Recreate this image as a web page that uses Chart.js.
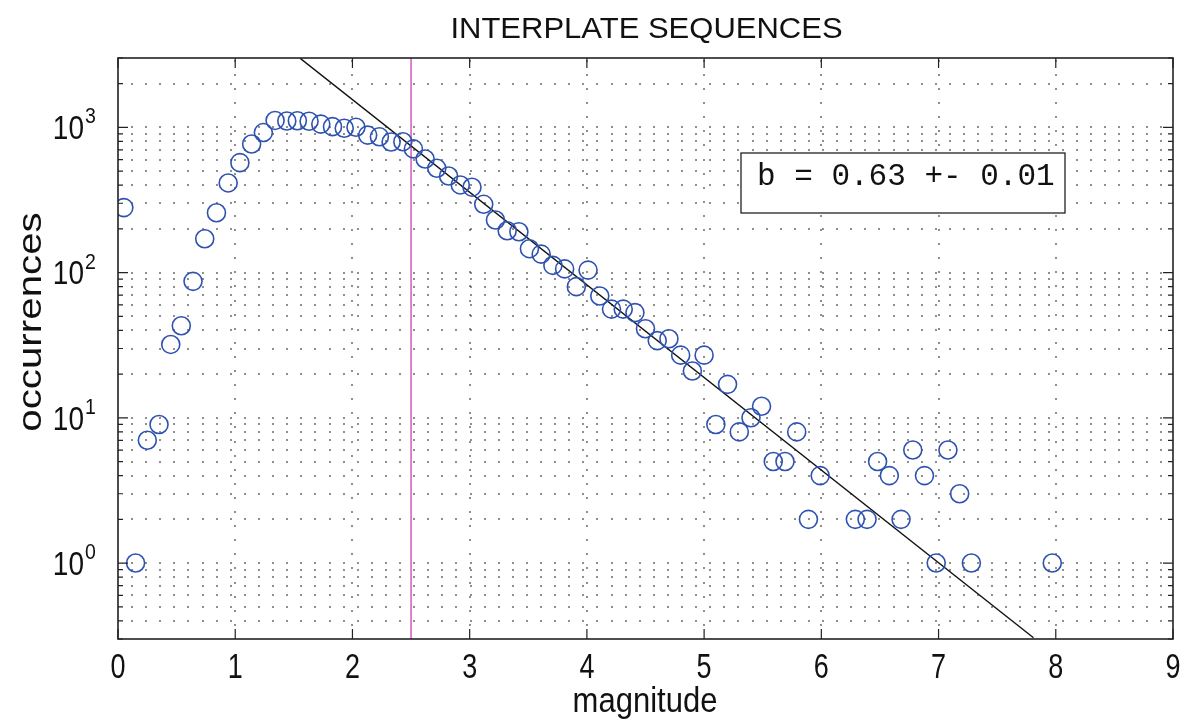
<!DOCTYPE html>
<html>
<head>
<meta charset="utf-8">
<title>Interplate sequences</title>
<script src="https://cdn.jsdelivr.net/npm/chart.js@4.4.0/dist/chart.umd.min.js"></script>
<style>
html, body { margin: 0; padding: 0; background: #fff; }
</style>
</head>
<body>
<canvas id="myChart" width="1190" height="723"></canvas>
<script>
// bin centres (magnitude) and counts, empty bins left out
var magnitudes = [0.05, 0.15, 0.25, 0.35, 0.45, 0.54, 0.64, 0.74, 0.84, 0.94,
    1.04, 1.14, 1.24, 1.34, 1.44, 1.53, 1.63, 1.73, 1.83, 1.93,
    2.03, 2.13, 2.23, 2.33, 2.43, 2.52, 2.62, 2.72, 2.82, 2.92,
    3.02, 3.12, 3.22, 3.32, 3.42, 3.51, 3.61, 3.71, 3.81, 3.91,
    4.01, 4.11, 4.21, 4.31, 4.41, 4.50, 4.60, 4.70, 4.80, 4.90,
    5.00, 5.10, 5.20, 5.30, 5.40, 5.49, 5.59, 5.69, 5.79, 5.89,
    5.99, 6.29, 6.39, 6.48, 6.58, 6.68, 6.78, 6.88, 6.98, 7.08,
    7.18, 7.28, 7.97];
var counts = [280, 1, 7, 9, 32, 43, 87, 171, 258, 414,
    571, 768, 920, 1115, 1105, 1110, 1100, 1052, 1010, 985,
    1000, 884, 860, 792, 796, 710, 605, 522, 462, 401,
    387, 295, 230, 194, 191, 146, 134, 112, 106, 80,
    104, 69, 56, 56, 53, 41, 34, 35, 27, 21,
    27, 9, 17, 8, 10, 12, 5, 5, 8, 2,
    4, 2, 2, 5, 4, 2, 6, 4, 1, 6,
    3, 1, 1];

// fitted Gutenberg-Richter line, ends where it leaves the axes
var fitMag = [1.555, 7.81];
var fitCount = [2983, 0.306];
var cutoffMag = 2.5;
var bText = 'b = 0.63 +- 0.01';

var xTicks = [0, 1, 2, 3, 4, 5, 6, 7, 8, 9];
var yExponents = [0, 1, 2, 3];
var yMin = 0.3, yMax = 3000;

var sans = '"Liberation Sans", Arial, Helvetica, sans-serif';

function drawText(ctx, txt, x, y, size, sy, align, family, sx) {
    ctx.save();
    ctx.translate(x, y);
    ctx.scale(sx || 1, sy);
    ctx.font = size + 'px ' + (family || sans);
    ctx.textAlign = align;
    ctx.textBaseline = 'alphabetic';
    ctx.fillStyle = '#111';
    ctx.fillText(txt, 0, 0);
    ctx.restore();
}

function isDecade(v) {
    var l = Math.log10(v);
    return Math.abs(l - Math.round(l)) < 1e-9;
}

// matlab style dotted grid, one dot every 14 px
var dotGrid = {
    id: 'dotGrid',
    beforeDatasetsDraw: function(chart) {
        var ctx = chart.ctx, a = chart.chartArea;
        var xs = chart.scales.x, ys = chart.scales.y;
        var step = 14.1, px, py, d;
        ctx.save();
        ctx.fillStyle = '#3a3a3a';
        ys.ticks.forEach(function(t) {
            py = Math.round(ys.getPixelForValue(t.value));
            if (py <= a.top + 1 || py >= a.bottom - 1) return;
            for (d = a.left + step; d < a.right - 2; d += step) {
                ctx.fillRect(Math.round(d) - 0.75, py - 0.75, 1.5, 1.5);
            }
        });
        xTicks.forEach(function(v) {
            px = Math.round(xs.getPixelForValue(v));
            if (px <= a.left + 1 || px >= a.right - 1) return;
            for (d = a.bottom - step; d > a.top + 2; d -= step) {
                ctx.fillRect(px - 0.75, Math.round(d) - 0.75, 1.5, 1.5);
            }
        });
        ctx.restore();
    }
};

var frame = {
    id: 'frame',
    afterDraw: function(chart) {
        var ctx = chart.ctx, a = chart.chartArea;
        var xs = chart.scales.x, ys = chart.scales.y;
        ctx.save();

        // inward tick marks
        ctx.strokeStyle = '#222';
        ctx.lineWidth = 1.2;
        ctx.beginPath();
        xTicks.forEach(function(v) {
            var px = xs.getPixelForValue(v);
            ctx.moveTo(px, a.bottom); ctx.lineTo(px, a.bottom - 10);
            ctx.moveTo(px, a.top); ctx.lineTo(px, a.top + 10);
        });
        ys.ticks.forEach(function(t) {
            var py = ys.getPixelForValue(t.value);
            var len = isDecade(t.value) ? 10 : 5;
            ctx.moveTo(a.left, py); ctx.lineTo(a.left + len, py);
            ctx.moveTo(a.right, py); ctx.lineTo(a.right - len, py);
        });
        ctx.stroke();

        // axes box
        ctx.lineWidth = 1.6;
        ctx.strokeRect(a.left, a.top, a.right - a.left, a.bottom - a.top);

        // b-value box
        ctx.fillStyle = '#fff';
        ctx.fillRect(741, 153, 324, 60);
        ctx.lineWidth = 1.3;
        ctx.strokeStyle = '#222';
        ctx.strokeRect(741, 153, 324, 60);
        drawText(ctx, bText, 757, 185, 31, 1, 'left', '"Liberation Mono", "Courier New", monospace');

        // x tick labels
        xTicks.forEach(function(v) {
            drawText(ctx, String(v), xs.getPixelForValue(v), 678, 27, 1.3, 'center');
        });
        // y tick labels 10^n
        yExponents.forEach(function(e) {
            var py = ys.getPixelForValue(Math.pow(10, e));
            drawText(ctx, '10', 84, py + 11.7, 28, 1.18, 'right');
            drawText(ctx, String(e), 85, py - 4, 19.5, 1.1, 'left');
        });

        // title and axis labels
        drawText(ctx, 'INTERPLATE SEQUENCES', 646.5, 38, 31, 0.95, 'center');
        drawText(ctx, 'magnitude', 645, 712, 31, 1.12, 'center');
        ctx.save();
        ctx.translate(41, 322);
        ctx.rotate(-Math.PI / 2);
        drawText(ctx, 'occurrences', 0, 0, 31, 1.05, 'center', sans, 1.3);
        ctx.restore();

        ctx.restore();
    }
};

var ctx = document.getElementById('myChart').getContext('2d');
var chart = new Chart(ctx, {
    type: 'scatter',
    data: {
        datasets: [{
            label: 'occurrences',
            data: magnitudes.map(function(m, i) { return {x: m, y: counts[i]}; }),
            pointStyle: 'circle',
            pointRadius: 9,
            pointBorderWidth: 1.6,
            borderColor: '#2f52b0',
            backgroundColor: 'rgba(0,0,0,0)',
            order: 1
        }, {
            label: 'fit',
            data: fitMag.map(function(m, i) { return {x: m, y: fitCount[i]}; }),
            showLine: true,
            pointRadius: 0,
            borderColor: '#111',
            borderWidth: 1.4,
            order: 2
        }, {
            label: 'Mc',
            data: [{x: cutoffMag, y: yMin}, {x: cutoffMag, y: yMax}],
            showLine: true,
            pointRadius: 0,
            borderColor: '#d040b0',
            borderWidth: 1.3,
            order: 3
        }]
    },
    options: {
        responsive: false,
        devicePixelRatio: 1,
        animation: false,
        layout: { padding: { left: 118, right: 17, top: 58, bottom: 84 } },
        plugins: {
            legend: { display: false },
            tooltip: { enabled: false },
            title: { display: false }
        },
        scales: {
            x: {
                type: 'linear',
                min: 0,
                max: 9,
                afterBuildTicks: function(scale) {
                    scale.ticks = xTicks.map(function(v) { return {value: v}; });
                },
                ticks: { display: false },
                grid: { display: false, drawTicks: false },
                border: { display: false }
            },
            y: {
                type: 'logarithmic',
                min: yMin,
                max: yMax,
                afterBuildTicks: function(scale) {
                    var t = [];
                    for (var e = -1; e <= 3; e++) {
                        for (var m = 1; m <= 9; m++) {
                            var v = m * Math.pow(10, e);
                            if (v >= yMin - 1e-9 && v <= yMax + 1e-6) t.push({value: v});
                        }
                    }
                    scale.ticks = t;
                },
                ticks: { display: false },
                grid: { display: false, drawTicks: false },
                border: { display: false }
            }
        }
    },
    plugins: [dotGrid, frame]
});
</script>
</body>
</html>
